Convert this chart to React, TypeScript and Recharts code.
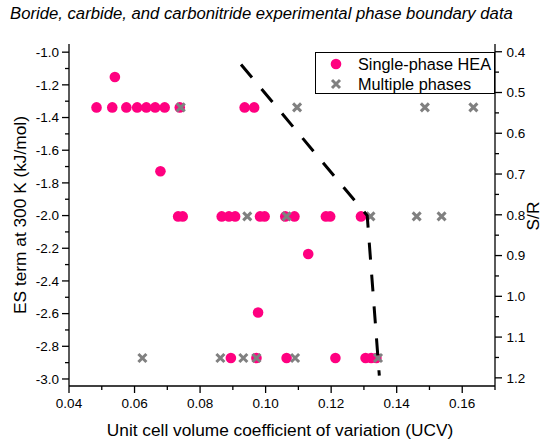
import { Legend, Scatter, ScatterChart, XAxis, YAxis } from 'recharts'

// UCV (x) and ES term (kJ/mol, y), one entry per marker
const singleUcv = [
  0.054,
  0.0484, 0.0532, 0.0575, 0.0608, 0.0636, 0.0663, 0.0692, 0.0738, 0.0936, 0.0965,
  0.0679,
  0.0733, 0.0747, 0.0866, 0.0888, 0.0907, 0.0983, 0.0997, 0.106, 0.1088, 0.1184, 0.1197, 0.1291,
  0.113,
  0.0977,
  0.0894, 0.0972, 0.1064, 0.1213, 0.1305, 0.1322, 0.1338,
]
const singleEs = [
  -1.152,
  -1.338, -1.338, -1.338, -1.338, -1.338, -1.338, -1.338, -1.338, -1.338, -1.338,
  -1.729,
  -2.005, -2.005, -2.005, -2.005, -2.005, -2.005, -2.005, -2.005, -2.005, -2.005, -2.005, -2.005,
  -2.235,
  -2.593,
  -2.872, -2.872, -2.872, -2.872, -2.872, -2.872, -2.872,
]

const multiUcv = [
  0.0741, 0.1096, 0.1486, 0.1634,
  0.0944, 0.1064, 0.132, 0.1461, 0.1537,
  0.0624, 0.0862, 0.0932, 0.0972, 0.109, 0.1343,
]
const multiEs = [
  -1.338, -1.338, -1.338, -1.338,
  -2.005, -2.005, -2.005, -2.005, -2.005,
  -2.872, -2.872, -2.872, -2.872, -2.872, -2.872,
]

// hand-drawn phase boundary
const boundaryUcv = [0.0925, 0.131, 0.1347]
const boundaryEs = [-1.075, -2.0, -2.98]

const ucvTicks = [0.04, 0.05, 0.06, 0.07, 0.08, 0.09, 0.1, 0.11, 0.12, 0.13, 0.14, 0.15, 0.16, 0.17]
const ucvMajor = [0.04, 0.06, 0.08, 0.1, 0.12, 0.14, 0.16]
const esTicks = [
  -3.0, -2.9, -2.8, -2.7, -2.6, -2.5, -2.4, -2.3, -2.2, -2.1, -2.0,
  -1.9, -1.8, -1.7, -1.6, -1.5, -1.4, -1.3, -1.2, -1.1, -1.0,
]
const esMajor = [-3.0, -2.8, -2.6, -2.4, -2.2, -2.0, -1.8, -1.6, -1.4, -1.2, -1.0]
const srTicks = [
  0.4, 0.45, 0.5, 0.55, 0.6, 0.65, 0.7, 0.75, 0.8, 0.85, 0.9, 0.95, 1.0, 1.05, 1.1, 1.15, 1.2,
]
const srMajor = [0.4, 0.5, 0.6, 0.7, 0.8, 0.9, 1.0, 1.1, 1.2]

const PINK = '#ff0080'
const GREY = '#808080'
const FONT = 'Arial, "Liberation Sans", sans-serif'
const AXIS = { stroke: '#000', strokeWidth: 1.3 }

const toPoints = (xs: number[], ys: number[]) => xs.map((x, i) => ({ x, y: ys[i] }))
const singleData = toPoints(singleUcv, singleEs)
const multiData = toPoints(multiUcv, multiEs)
const boundaryData = toPoints(boundaryUcv, boundaryEs)

const isIn = (list: number[], v: number) => list.some((m) => Math.abs(m - v) < 1e-6)

function BottomTick({ x, y, payload }: any) {
  const major = isIn(ucvMajor, payload.value)
  return (
    <g>
      <line x1={x} x2={x} y1={y} y2={y + (major ? 7 : 4)} stroke="#000" strokeWidth={1.3} />
      {major && (
        <text x={x} y={y + 22} textAnchor="middle" fontSize={13.5} fill="#000">
          {payload.value.toFixed(2)}
        </text>
      )}
    </g>
  )
}

function TopTick({ x, y, payload }: any) {
  const major = isIn(ucvMajor, payload.value)
  return <line x1={x} x2={x} y1={y} y2={y + (major ? 6 : 3.5)} stroke="#000" strokeWidth={1.3} />
}

function LeftTick({ x, y, payload }: any) {
  const major = isIn(esMajor, payload.value)
  return (
    <g>
      <line x1={x} x2={x - (major ? 7 : 4)} y1={y} y2={y} stroke="#000" strokeWidth={1.3} />
      {major && (
        <text x={x - 10} y={y} dy="0.36em" textAnchor="end" fontSize={13.5} fill="#000">
          {payload.value.toFixed(1)}
        </text>
      )}
    </g>
  )
}

function RightTick({ x, y, payload }: any) {
  const major = isIn(srMajor, payload.value)
  return (
    <g>
      <line x1={x} x2={x + (major ? 7 : 4)} y1={y} y2={y} stroke="#000" strokeWidth={1.3} />
      {major && (
        <text x={x + 11.5} y={y} dy="0.36em" textAnchor="start" fontSize={13.5} fill="#000">
          {payload.value.toFixed(1)}
        </text>
      )}
    </g>
  )
}

const Dot = ({ cx, cy }: any) => <circle cx={cx} cy={cy} r={5.3} fill={PINK} />
const Cross = ({ cx, cy }: any) => (
  <path
    d={`M${cx - 4},${cy - 4}L${cx + 4},${cy + 4}M${cx - 4},${cy + 4}L${cx + 4},${cy - 4}`}
    stroke={GREY}
    strokeWidth={3}
  />
)

function LegendBox() {
  return (
    <div
      style={{
        boxSizing: 'border-box',
        width: 180,
        height: 42,
        border: '1.3px solid #000',
        background: '#fff',
        fontFamily: FONT,
        fontSize: 16.3,
        position: 'relative',
      }}
    >
      <svg width={40} height={40} style={{ position: 'absolute', left: 0, top: 0 }}>
        <circle cx={20} cy={11} r={5.3} fill={PINK} />
        <path d="M16,27L24,35M16,35L24,27" stroke={GREY} strokeWidth={3} />
      </svg>
      <div style={{ position: 'absolute', left: 42, top: 1, lineHeight: '20px', whiteSpace: 'nowrap' }}>
        Single-phase HEA
      </div>
      <div style={{ position: 'absolute', left: 42, top: 21, lineHeight: '20px', whiteSpace: 'nowrap' }}>
        Multiple phases
      </div>
    </div>
  )
}

const rotated = (cx: number, cy: number): React.CSSProperties => ({
  position: 'absolute',
  left: cx,
  top: cy,
  transform: 'translate(-50%, -50%) rotate(-90deg)',
  whiteSpace: 'nowrap',
  fontSize: 17.3,
})

export default function App() {
  return (
    <div
      style={{
        position: 'absolute',
        left: 0,
        top: 0,
        width: 544,
        height: 442,
        overflow: 'hidden',
        background: '#fff',
        fontFamily: FONT,
        color: '#000',
      }}
    >
      <div
        style={{
          position: 'absolute',
          left: 10,
          top: 4,
          fontSize: 16.7,
          fontStyle: 'italic',
          whiteSpace: 'nowrap',
        }}
      >
        Boride, carbide, and carbonitride experimental phase boundary data
      </div>
      <ScatterChart width={544} height={442} margin={{ top: 44, right: 0, bottom: 0, left: 0 }}>
        <XAxis
          xAxisId="ucv"
          dataKey="x"
          type="number"
          domain={[0.04, 0.17]}
          ticks={ucvTicks}
          interval={0}
          height={56}
          tickSize={0}
          tickMargin={0}
          tick={<BottomTick />}
          axisLine={AXIS}
          tickLine={false}
        />
        <XAxis
          xAxisId="top"
          orientation="top"
          type="number"
          domain={[0.04, 0.17]}
          ticks={ucvTicks}
          interval={0}
          height={0}
          tickSize={0}
          tickMargin={0}
          tick={<TopTick />}
          axisLine={AXIS}
          tickLine={false}
        />
        <YAxis
          yAxisId="es"
          dataKey="y"
          type="number"
          domain={[-3.043, -0.95]}
          ticks={esTicks}
          interval={0}
          width={69}
          tickSize={0}
          tickMargin={0}
          tick={<LeftTick />}
          axisLine={AXIS}
          tickLine={false}
          allowDataOverflow
        />
        <YAxis
          yAxisId="sr"
          orientation="right"
          type="number"
          domain={[0.381, 1.22]}
          reversed
          ticks={srTicks}
          interval={0}
          width={49}
          tickSize={0}
          tickMargin={0}
          tick={<RightTick />}
          axisLine={AXIS}
          tickLine={false}
          allowDataOverflow
        />
        <Legend
          layout="horizontal"
          verticalAlign="middle"
          content={<LegendBox />}
          wrapperStyle={{ left: 315, top: 52, width: 180, height: 42 }}
        />
        <Scatter
          name="Single-phase HEA"
          data={singleData}
          xAxisId="ucv"
          yAxisId="es"
          shape={<Dot />}
          isAnimationActive={false}
        />
        <Scatter
          name="Multiple phases"
          data={multiData}
          xAxisId="ucv"
          yAxisId="es"
          shape={<Cross />}
          isAnimationActive={false}
        />
        <Scatter
          name="boundary"
          data={boundaryData}
          xAxisId="ucv"
          yAxisId="es"
          line={{ stroke: '#000', strokeWidth: 3, strokeDasharray: '17 15' }}
          shape={() => <g />}
          legendType="none"
          isAnimationActive={false}
        />
      </ScatterChart>
      <div style={rotated(20, 215)}>ES term at 300 K (kJ/mol)</div>
      <div style={rotated(533, 216)}>S/R</div>
      <div
        style={{
          position: 'absolute',
          left: 280,
          top: 430,
          transform: 'translate(-50%, -50%)',
          fontSize: 17.3,
          whiteSpace: 'nowrap',
        }}
      >
        Unit cell volume coefficient of variation (UCV)
      </div>
    </div>
  )
}
